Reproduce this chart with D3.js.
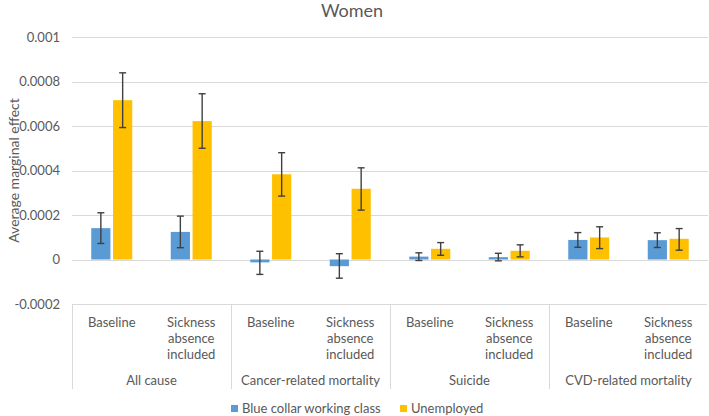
<!DOCTYPE html>
<html>
<head>
<meta charset="utf-8">
<script src="https://cdn.jsdelivr.net/npm/d3@7"></script>
<style>
  body { margin: 0; background: #fff; }
  text { font-family: Lato, "Liberation Sans", sans-serif; fill: #595959; }
</style>
</head>
<body>
<div id="chart"></div>
<script>
// chart data
const groups = ["All cause", "Cancer-related mortality", "Suicide", "CVD-related mortality"];
const subLabels = ["Baseline", "Sickness absence included"];
const seriesNames = ["Blue collar working class", "Unemployed"];

// one value per sub-category (group x model), in order
const blueValues = [0.000141, 0.000124, -0.000013, -0.00003, 0.000013, 0.0000105, 0.000088, 0.000087];
const blueLow = [0.000072, 0.000053, -0.000067, -0.000084, -0.0000045, -0.000006, 0.000055, 0.000054];
const blueHigh = [0.00021, 0.000195, 0.000037, 0.000026, 0.00003, 0.000028, 0.000121, 0.00012];

const unempValues = [0.000716, 0.000622, 0.000383, 0.000318, 0.000048, 0.000039, 0.000099, 0.000093];
const unempLow = [0.000593, 0.0005, 0.000285, 0.000222, 0.000019, 0.000012, 0.000049, 0.000042];
const unempHigh = [0.000839, 0.000745, 0.00048, 0.000412, 0.000076, 0.000066, 0.000147, 0.000139];

const yTicks = [-0.0002, 0, 0.0002, 0.0004, 0.0006, 0.0008, 0.001];

const width = 709;
const height = 416;
const margin = { top: 37, right: 1, bottom: 112, left: 72 };

const svg = d3
  .select("#chart")
  .append("svg")
  .attr("width", width)
  .attr("height", height);

// build rows for each sub-category
const rows = [];
groups.forEach((g, gi) => {
  subLabels.forEach((s, si) => {
    const i = gi * 2 + si;
    rows.push({
      key: g + "|" + s,
      group: g,
      sub: s,
      series: [
        { name: seriesNames[0], value: blueValues[i], low: blueLow[i], high: blueHigh[i] },
        { name: seriesNames[1], value: unempValues[i], low: unempLow[i], high: unempHigh[i] },
      ],
    });
  });
});

const x = d3
  .scaleBand()
  .domain(rows.map((d) => d.key))
  .range([margin.left, width - margin.right]);

const x1 = d3
  .scaleBand()
  .domain(seriesNames)
  .range([x.bandwidth() / 2 - 20.5, x.bandwidth() / 2 + 20.5])
  .paddingInner(0.12);

const y = d3
  .scaleLinear()
  .domain([-0.0002, 0.001])
  .range([height - margin.bottom, margin.top]);

const color = d3.scaleOrdinal().domain(seriesNames).range(["#5b9bd5", "#ffc000"]);

// gridlines
svg
  .append("g")
  .selectAll("line")
  .data(yTicks.filter((t) => t !== -0.0002))
  .enter()
  .append("line")
  .attr("x1", margin.left)
  .attr("x2", width - margin.right)
  .attr("y1", (d) => Math.round(y(d)) + 0.5)
  .attr("y2", (d) => Math.round(y(d)) + 0.5)
  .attr("stroke", "#d9d9d9")
  .attr("stroke-width", 1);

// y tick labels
const yAxis = svg
  .append("g")
  .attr("transform", `translate(${margin.left}, 0)`)
  .call(d3.axisLeft(y).tickValues(yTicks).tickSize(0).tickPadding(12).tickFormat((d) => (d === 0 ? "0" : String(+d.toFixed(4)))));
yAxis.select(".domain").remove();
yAxis.selectAll("text").style("font-size", "13px").attr("fill", "#595959");

// bars
const cats = svg
  .selectAll("g.cat")
  .data(rows)
  .enter()
  .append("g")
  .attr("class", "cat")
  .attr("transform", (d) => `translate(${x(d.key)}, 0)`);

cats
  .selectAll("rect")
  .data((d) => d.series)
  .enter()
  .append("rect")
  .attr("x", (d) => x1(d.name))
  .attr("width", x1.bandwidth())
  .attr("y", (d) => y(Math.max(0, d.value)))
  .attr("height", (d) => Math.abs(y(d.value) - y(0)))
  .attr("fill", (d) => color(d.name));

// error bars
const err = cats
  .selectAll("g.err")
  .data((d) => d.series)
  .enter()
  .append("g")
  .attr("class", "err")
  .attr("stroke", "#404040")
  .attr("stroke-width", 1.4);

const cx = (d) => x1(d.name) + x1.bandwidth() / 2;
err
  .append("line")
  .attr("x1", cx)
  .attr("x2", cx)
  .attr("y1", (d) => y(d.low))
  .attr("y2", (d) => y(d.high));
["low", "high"].forEach((k) => {
  err
    .append("line")
    .attr("x1", (d) => cx(d) - 3.5)
    .attr("x2", (d) => cx(d) + 3.5)
    .attr("y1", (d) => y(d[k]))
    .attr("y2", (d) => y(d[k]));
});

// category axis box
const axisTop = Math.round(y(-0.0002)) + 0.5;
const axisBottom = 389;
const ax = svg.append("g").attr("stroke", "#d9d9d9").attr("stroke-width", 1);
ax.append("line")
  .attr("x1", margin.left)
  .attr("x2", width - margin.right - 1)
  .attr("y1", axisTop)
  .attr("y2", axisTop);
groups.forEach((g) => {
  const gx = Math.round(x(g + "|" + subLabels[0])) + 0.5;
  ax.append("line").attr("x1", gx).attr("x2", gx).attr("y1", axisTop).attr("y2", axisBottom);
});

// sub-category labels
rows.forEach((r) => {
  const words = r.sub === subLabels[0] ? ["Baseline"] : ["Sickness", "absence", "included"];
  const t = svg
    .append("text")
    .attr("x", x(r.key) + x.bandwidth() / 2)
    .attr("y", 327)
    .style("font-size", "13px")
    .style("text-anchor", "middle");
  words.forEach((w, i) => {
    t.append("tspan")
      .attr("x", x(r.key) + x.bandwidth() / 2)
      .attr("dy", i === 0 ? 0 : 16)
      .text(w);
  });
});

// group labels
groups.forEach((g) => {
  svg
    .append("text")
    .attr("x", x(g + "|" + subLabels[0]) + x.bandwidth())
    .attr("y", 385)
    .style("font-size", "13px")
    .style("text-anchor", "middle")
    .text(g);
});

// title
svg
  .append("text")
  .attr("x", 352)
  .attr("y", 17)
  .style("font-size", "18px")
  .style("text-anchor", "middle")
  .text("Women");

// y axis label
svg
  .append("text")
  .attr("transform", "rotate(-90)")
  .attr("x", -(margin.top + (height - margin.bottom)) / 2)
  .attr("y", 19)
  .style("font-size", "14px")
  .style("text-anchor", "middle")
  .text("Average marginal effect");

// legend
const legendX = [231, 400];
seriesNames.forEach((name, i) => {
  svg
    .append("rect")
    .attr("x", legendX[i])
    .attr("y", 405)
    .attr("width", 7)
    .attr("height", 7)
    .attr("fill", color(name));
  svg
    .append("text")
    .attr("x", legendX[i] + 11)
    .attr("y", 413)
    .style("font-size", "13px")
    .text(name);
});
</script>
</body>
</html>
